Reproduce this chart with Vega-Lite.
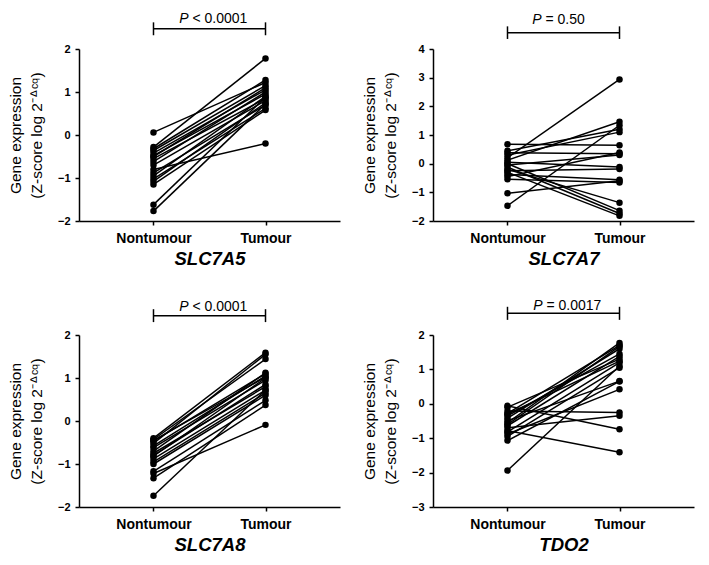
{
  "$schema": "https://vega.github.io/schema/vega-lite/v6.json",
  "padding": {"left": 8, "top": 11, "right": 5, "bottom": 5},
  "background": "white",
  "spacing": 30,
  "datasets": {
    "expr": [
      {"gene":"SLC7A5","pair":1,"tissue":"Nontumour","value":0.06},{"gene":"SLC7A5","pair":1,"tissue":"Tumour","value":1.22},
      {"gene":"SLC7A5","pair":2,"tissue":"Nontumour","value":-0.28},{"gene":"SLC7A5","pair":2,"tissue":"Tumour","value":1.78},
      {"gene":"SLC7A5","pair":3,"tissue":"Nontumour","value":-0.32},{"gene":"SLC7A5","pair":3,"tissue":"Tumour","value":1.28},
      {"gene":"SLC7A5","pair":4,"tissue":"Nontumour","value":-0.36},{"gene":"SLC7A5","pair":4,"tissue":"Tumour","value":1.15},
      {"gene":"SLC7A5","pair":5,"tissue":"Nontumour","value":-0.42},{"gene":"SLC7A5","pair":5,"tissue":"Tumour","value":1.05},
      {"gene":"SLC7A5","pair":6,"tissue":"Nontumour","value":-0.48},{"gene":"SLC7A5","pair":6,"tissue":"Tumour","value":0.95},
      {"gene":"SLC7A5","pair":7,"tissue":"Nontumour","value":-0.55},{"gene":"SLC7A5","pair":7,"tissue":"Tumour","value":0.85},
      {"gene":"SLC7A5","pair":8,"tissue":"Nontumour","value":-0.62},{"gene":"SLC7A5","pair":8,"tissue":"Tumour","value":1.0},
      {"gene":"SLC7A5","pair":9,"tissue":"Nontumour","value":-0.7},{"gene":"SLC7A5","pair":9,"tissue":"Tumour","value":0.8},
      {"gene":"SLC7A5","pair":10,"tissue":"Nontumour","value":-0.8},{"gene":"SLC7A5","pair":10,"tissue":"Tumour","value":-0.2},
      {"gene":"SLC7A5","pair":11,"tissue":"Nontumour","value":-0.88},{"gene":"SLC7A5","pair":11,"tissue":"Tumour","value":0.7},
      {"gene":"SLC7A5","pair":12,"tissue":"Nontumour","value":-0.95},{"gene":"SLC7A5","pair":12,"tissue":"Tumour","value":0.9},
      {"gene":"SLC7A5","pair":13,"tissue":"Nontumour","value":-1.02},{"gene":"SLC7A5","pair":13,"tissue":"Tumour","value":0.62},
      {"gene":"SLC7A5","pair":14,"tissue":"Nontumour","value":-1.08},{"gene":"SLC7A5","pair":14,"tissue":"Tumour","value":0.75},
      {"gene":"SLC7A5","pair":15,"tissue":"Nontumour","value":-1.15},{"gene":"SLC7A5","pair":15,"tissue":"Tumour","value":0.58},
      {"gene":"SLC7A5","pair":16,"tissue":"Nontumour","value":-1.62},{"gene":"SLC7A5","pair":16,"tissue":"Tumour","value":0.88},
      {"gene":"SLC7A5","pair":17,"tissue":"Nontumour","value":-1.77},{"gene":"SLC7A5","pair":17,"tissue":"Tumour","value":0.72},
      {"gene":"SLC7A5","pair":18,"tissue":"Nontumour","value":-0.5},{"gene":"SLC7A5","pair":18,"tissue":"Tumour","value":1.1},

      {"gene":"SLC7A7","pair":1,"tissue":"Nontumour","value":0.68},{"gene":"SLC7A7","pair":1,"tissue":"Tumour","value":0.64},
      {"gene":"SLC7A7","pair":2,"tissue":"Nontumour","value":0.45},{"gene":"SLC7A7","pair":2,"tissue":"Tumour","value":1.2},
      {"gene":"SLC7A7","pair":3,"tissue":"Nontumour","value":0.38},{"gene":"SLC7A7","pair":3,"tissue":"Tumour","value":0.35},
      {"gene":"SLC7A7","pair":4,"tissue":"Nontumour","value":0.3},{"gene":"SLC7A7","pair":4,"tissue":"Tumour","value":1.1},
      {"gene":"SLC7A7","pair":5,"tissue":"Nontumour","value":0.21},{"gene":"SLC7A7","pair":5,"tissue":"Tumour","value":2.94},
      {"gene":"SLC7A7","pair":6,"tissue":"Nontumour","value":0.12},{"gene":"SLC7A7","pair":6,"tissue":"Tumour","value":1.46},
      {"gene":"SLC7A7","pair":7,"tissue":"Nontumour","value":0.05},{"gene":"SLC7A7","pair":7,"tissue":"Tumour","value":-0.12},
      {"gene":"SLC7A7","pair":8,"tissue":"Nontumour","value":0.0},{"gene":"SLC7A7","pair":8,"tissue":"Tumour","value":-1.64},
      {"gene":"SLC7A7","pair":9,"tissue":"Nontumour","value":-0.05},{"gene":"SLC7A7","pair":9,"tissue":"Tumour","value":0.3},
      {"gene":"SLC7A7","pair":10,"tissue":"Nontumour","value":-0.12},{"gene":"SLC7A7","pair":10,"tissue":"Tumour","value":-1.74},
      {"gene":"SLC7A7","pair":11,"tissue":"Nontumour","value":-0.2},{"gene":"SLC7A7","pair":11,"tissue":"Tumour","value":-1.36},
      {"gene":"SLC7A7","pair":12,"tissue":"Nontumour","value":-0.25},{"gene":"SLC7A7","pair":12,"tissue":"Tumour","value":-0.19},
      {"gene":"SLC7A7","pair":13,"tissue":"Nontumour","value":-0.3},{"gene":"SLC7A7","pair":13,"tissue":"Tumour","value":-1.82},
      {"gene":"SLC7A7","pair":14,"tissue":"Nontumour","value":-0.38},{"gene":"SLC7A7","pair":14,"tissue":"Tumour","value":-0.56},
      {"gene":"SLC7A7","pair":15,"tissue":"Nontumour","value":-0.45},{"gene":"SLC7A7","pair":15,"tissue":"Tumour","value":0.39},
      {"gene":"SLC7A7","pair":16,"tissue":"Nontumour","value":-0.54},{"gene":"SLC7A7","pair":16,"tissue":"Tumour","value":-0.66},
      {"gene":"SLC7A7","pair":17,"tissue":"Nontumour","value":-1.03},{"gene":"SLC7A7","pair":17,"tissue":"Tumour","value":-0.6},
      {"gene":"SLC7A7","pair":18,"tissue":"Nontumour","value":-1.47},{"gene":"SLC7A7","pair":18,"tissue":"Tumour","value":1.34},

      {"gene":"SLC7A8","pair":1,"tissue":"Nontumour","value":-0.4},{"gene":"SLC7A8","pair":1,"tissue":"Tumour","value":1.59},
      {"gene":"SLC7A8","pair":2,"tissue":"Nontumour","value":-0.43},{"gene":"SLC7A8","pair":2,"tissue":"Tumour","value":1.44},
      {"gene":"SLC7A8","pair":3,"tissue":"Nontumour","value":-0.47},{"gene":"SLC7A8","pair":3,"tissue":"Tumour","value":1.1},
      {"gene":"SLC7A8","pair":4,"tissue":"Nontumour","value":-0.52},{"gene":"SLC7A8","pair":4,"tissue":"Tumour","value":1.55},
      {"gene":"SLC7A8","pair":5,"tissue":"Nontumour","value":-0.58},{"gene":"SLC7A8","pair":5,"tissue":"Tumour","value":1.05},
      {"gene":"SLC7A8","pair":6,"tissue":"Nontumour","value":-0.62},{"gene":"SLC7A8","pair":6,"tissue":"Tumour","value":0.95},
      {"gene":"SLC7A8","pair":7,"tissue":"Nontumour","value":-0.7},{"gene":"SLC7A8","pair":7,"tissue":"Tumour","value":1.12},
      {"gene":"SLC7A8","pair":8,"tissue":"Nontumour","value":-0.75},{"gene":"SLC7A8","pair":8,"tissue":"Tumour","value":0.8},
      {"gene":"SLC7A8","pair":9,"tissue":"Nontumour","value":-0.82},{"gene":"SLC7A8","pair":9,"tissue":"Tumour","value":1.0},
      {"gene":"SLC7A8","pair":10,"tissue":"Nontumour","value":-0.88},{"gene":"SLC7A8","pair":10,"tissue":"Tumour","value":0.72},
      {"gene":"SLC7A8","pair":11,"tissue":"Nontumour","value":-0.95},{"gene":"SLC7A8","pair":11,"tissue":"Tumour","value":0.65},
      {"gene":"SLC7A8","pair":12,"tissue":"Nontumour","value":-1.0},{"gene":"SLC7A8","pair":12,"tissue":"Tumour","value":0.6},
      {"gene":"SLC7A8","pair":13,"tissue":"Nontumour","value":-1.17},{"gene":"SLC7A8","pair":13,"tissue":"Tumour","value":0.48},
      {"gene":"SLC7A8","pair":14,"tissue":"Nontumour","value":-1.22},{"gene":"SLC7A8","pair":14,"tissue":"Tumour","value":-0.09},
      {"gene":"SLC7A8","pair":15,"tissue":"Nontumour","value":-1.33},{"gene":"SLC7A8","pair":15,"tissue":"Tumour","value":0.37},
      {"gene":"SLC7A8","pair":16,"tissue":"Nontumour","value":-1.74},{"gene":"SLC7A8","pair":16,"tissue":"Tumour","value":0.72},
      {"gene":"SLC7A8","pair":17,"tissue":"Nontumour","value":-0.45},{"gene":"SLC7A8","pair":17,"tissue":"Tumour","value":1.02},
      {"gene":"SLC7A8","pair":18,"tissue":"Nontumour","value":-0.8},{"gene":"SLC7A8","pair":18,"tissue":"Tumour","value":0.85},

      {"gene":"TDO2","pair":1,"tissue":"Nontumour","value":-0.06},{"gene":"TDO2","pair":1,"tissue":"Tumour","value":-0.74},
      {"gene":"TDO2","pair":2,"tissue":"Nontumour","value":-0.1},{"gene":"TDO2","pair":2,"tissue":"Tumour","value":1.3},
      {"gene":"TDO2","pair":3,"tissue":"Nontumour","value":-0.21},{"gene":"TDO2","pair":3,"tissue":"Tumour","value":-0.25},
      {"gene":"TDO2","pair":4,"tissue":"Nontumour","value":-0.28},{"gene":"TDO2","pair":4,"tissue":"Tumour","value":1.7},
      {"gene":"TDO2","pair":5,"tissue":"Nontumour","value":-0.35},{"gene":"TDO2","pair":5,"tissue":"Tumour","value":1.45},
      {"gene":"TDO2","pair":6,"tissue":"Nontumour","value":-0.42},{"gene":"TDO2","pair":6,"tissue":"Tumour","value":1.6},
      {"gene":"TDO2","pair":7,"tissue":"Nontumour","value":-0.49},{"gene":"TDO2","pair":7,"tissue":"Tumour","value":0.66},
      {"gene":"TDO2","pair":8,"tissue":"Nontumour","value":-0.55},{"gene":"TDO2","pair":8,"tissue":"Tumour","value":1.77},
      {"gene":"TDO2","pair":9,"tissue":"Nontumour","value":-0.64},{"gene":"TDO2","pair":9,"tissue":"Tumour","value":1.38},
      {"gene":"TDO2","pair":10,"tissue":"Nontumour","value":-0.7},{"gene":"TDO2","pair":10,"tissue":"Tumour","value":-0.35},
      {"gene":"TDO2","pair":11,"tissue":"Nontumour","value":-0.78},{"gene":"TDO2","pair":11,"tissue":"Tumour","value":-1.41},
      {"gene":"TDO2","pair":12,"tissue":"Nontumour","value":-0.82},{"gene":"TDO2","pair":12,"tissue":"Tumour","value":1.2},
      {"gene":"TDO2","pair":13,"tissue":"Nontumour","value":-0.88},{"gene":"TDO2","pair":13,"tissue":"Tumour","value":0.42},
      {"gene":"TDO2","pair":14,"tissue":"Nontumour","value":-0.95},{"gene":"TDO2","pair":14,"tissue":"Tumour","value":1.05},
      {"gene":"TDO2","pair":15,"tissue":"Nontumour","value":-1.07},{"gene":"TDO2","pair":15,"tissue":"Tumour","value":0.65},
      {"gene":"TDO2","pair":16,"tissue":"Nontumour","value":-1.94},{"gene":"TDO2","pair":16,"tissue":"Tumour","value":1.1},
      {"gene":"TDO2","pair":17,"tissue":"Nontumour","value":-0.6},{"gene":"TDO2","pair":17,"tissue":"Tumour","value":1.67},
      {"gene":"TDO2","pair":18,"tissue":"Nontumour","value":-0.3},{"gene":"TDO2","pair":18,"tissue":"Tumour","value":1.24}
    ]
  },
  "vconcat": [
    {"hconcat": [
      {
        "width": 261, "height": 172,
        "layer": [
          {"data": {"name": "expr"}, "transform": [{"filter": "datum.gene === 'SLC7A5'"}], "mark": {"type": "line", "color": "black", "strokeWidth": 1.5},
           "encoding": {
             "x": {"field": "tissue", "type": "nominal", "scale": {"type": "point", "padding": 0.665, "domain": ["Nontumour", "Tumour"]}, "axis": {"title": "SLC7A5"}},
             "y": {"field": "value", "type": "quantitative", "scale": {"domain": [-2, 2], "nice": false, "zero": false}, "axis": {"values": [-2, -1, 0, 1, 2], "title": ["Gene expression", "(Z-score log 2⁻ᐞᶜ𐞥)"]}},
             "detail": {"field": "pair"}}},
          {"data": {"name": "expr"}, "transform": [{"filter": "datum.gene === 'SLC7A5'"}], "mark": {"type": "circle", "color": "black", "size": 42, "opacity": 1},
           "encoding": {"x": {"field": "tissue", "type": "nominal", "axis": {"title": "SLC7A5"}}, "y": {"field": "value", "type": "quantitative", "scale": {"domain": [-2, 2], "nice": false, "zero": false}, "axis": {"values": [-2, -1, 0, 1, 2], "title": ["Gene expression", "(Z-score log 2⁻ᐞᶜ𐞥)"]}}}},
          {"data": {"values": [{}]}, "mark": {"type": "rule", "color": "black", "strokeWidth": 1.5}, "encoding": {"x": {"datum": "Nontumour"}, "x2": {"datum": "Tumour"}, "y": {"datum": 2.47, "scale": {"domain": [-2, 2], "nice": false, "zero": false}, "axis": {"values": [-2, -1, 0, 1, 2], "title": ["Gene expression", "(Z-score log 2⁻ᐞᶜ𐞥)"]}}}},
          {"data": {"values": [{}]}, "mark": {"type": "rule", "color": "black", "strokeWidth": 1.5}, "encoding": {"x": {"datum": "Nontumour"}, "y": {"datum": 2.32, "scale": {"domain": [-2, 2], "nice": false, "zero": false}, "axis": {"values": [-2, -1, 0, 1, 2], "title": ["Gene expression", "(Z-score log 2⁻ᐞᶜ𐞥)"]}}, "y2": {"datum": 2.62}}},
          {"data": {"values": [{}]}, "mark": {"type": "rule", "color": "black", "strokeWidth": 1.5}, "encoding": {"x": {"datum": "Tumour"}, "y": {"datum": 2.32, "scale": {"domain": [-2, 2], "nice": false, "zero": false}, "axis": {"values": [-2, -1, 0, 1, 2], "title": ["Gene expression", "(Z-score log 2⁻ᐞᶜ𐞥)"]}}, "y2": {"datum": 2.62}}},
          {"data": {"values": [{}]}, "mark": {"type": "text", "text": "P", "fontStyle": "italic", "fontSize": 14, "align": "right", "baseline": "alphabetic", "dx": 35, "color": "black"}, "encoding": {"x": {"datum": "Nontumour"}, "y": {"datum": 2.61, "scale": {"domain": [-2, 2], "nice": false, "zero": false}, "axis": {"values": [-2, -1, 0, 1, 2], "title": ["Gene expression", "(Z-score log 2⁻ᐞᶜ𐞥)"]}}}},
          {"data": {"values": [{}]}, "mark": {"type": "text", "text": "< 0.0001", "fontSize": 14, "align": "left", "baseline": "alphabetic", "dx": 39, "color": "black"}, "encoding": {"x": {"datum": "Nontumour"}, "y": {"datum": 2.61, "scale": {"domain": [-2, 2], "nice": false, "zero": false}, "axis": {"values": [-2, -1, 0, 1, 2], "title": ["Gene expression", "(Z-score log 2⁻ᐞᶜ𐞥)"]}}}}
        ]
      },
      {
        "width": 261, "height": 172,
        "layer": [
          {"data": {"name": "expr"}, "transform": [{"filter": "datum.gene === 'SLC7A7'"}], "mark": {"type": "line", "color": "black", "strokeWidth": 1.5},
           "encoding": {
             "x": {"field": "tissue", "type": "nominal", "scale": {"type": "point", "padding": 0.665, "domain": ["Nontumour", "Tumour"]}, "axis": {"title": "SLC7A7"}},
             "y": {"field": "value", "type": "quantitative", "scale": {"domain": [-2, 4], "nice": false, "zero": false}, "axis": {"values": [-2, -1, 0, 1, 2, 3, 4], "title": ["Gene expression", "(Z-score log 2⁻ᐞᶜ𐞥)"]}},
             "detail": {"field": "pair"}}},
          {"data": {"name": "expr"}, "transform": [{"filter": "datum.gene === 'SLC7A7'"}], "mark": {"type": "circle", "color": "black", "size": 42, "opacity": 1},
           "encoding": {"x": {"field": "tissue", "type": "nominal", "axis": {"title": "SLC7A7"}}, "y": {"field": "value", "type": "quantitative", "scale": {"domain": [-2, 4], "nice": false, "zero": false}, "axis": {"values": [-2, -1, 0, 1, 2, 3, 4], "title": ["Gene expression", "(Z-score log 2⁻ᐞᶜ𐞥)"]}}}},
          {"data": {"values": [{}]}, "mark": {"type": "rule", "color": "black", "strokeWidth": 1.5}, "encoding": {"x": {"datum": "Nontumour"}, "x2": {"datum": "Tumour"}, "y": {"datum": 4.57, "scale": {"domain": [-2, 4], "nice": false, "zero": false}, "axis": {"values": [-2, -1, 0, 1, 2, 3, 4], "title": ["Gene expression", "(Z-score log 2⁻ᐞᶜ𐞥)"]}}}},
          {"data": {"values": [{}]}, "mark": {"type": "rule", "color": "black", "strokeWidth": 1.5}, "encoding": {"x": {"datum": "Nontumour"}, "y": {"datum": 4.35, "scale": {"domain": [-2, 4], "nice": false, "zero": false}, "axis": {"values": [-2, -1, 0, 1, 2, 3, 4], "title": ["Gene expression", "(Z-score log 2⁻ᐞᶜ𐞥)"]}}, "y2": {"datum": 4.79}}},
          {"data": {"values": [{}]}, "mark": {"type": "rule", "color": "black", "strokeWidth": 1.5}, "encoding": {"x": {"datum": "Tumour"}, "y": {"datum": 4.35, "scale": {"domain": [-2, 4], "nice": false, "zero": false}, "axis": {"values": [-2, -1, 0, 1, 2, 3, 4], "title": ["Gene expression", "(Z-score log 2⁻ᐞᶜ𐞥)"]}}, "y2": {"datum": 4.79}}},
          {"data": {"values": [{}]}, "mark": {"type": "text", "text": "P", "fontStyle": "italic", "fontSize": 14, "align": "right", "baseline": "alphabetic", "dx": 34, "color": "black"}, "encoding": {"x": {"datum": "Nontumour"}, "y": {"datum": 4.86, "scale": {"domain": [-2, 4], "nice": false, "zero": false}, "axis": {"values": [-2, -1, 0, 1, 2, 3, 4], "title": ["Gene expression", "(Z-score log 2⁻ᐞᶜ𐞥)"]}}}},
          {"data": {"values": [{}]}, "mark": {"type": "text", "text": "= 0.50", "fontSize": 14, "align": "left", "baseline": "alphabetic", "dx": 38, "color": "black"}, "encoding": {"x": {"datum": "Nontumour"}, "y": {"datum": 4.86, "scale": {"domain": [-2, 4], "nice": false, "zero": false}, "axis": {"values": [-2, -1, 0, 1, 2, 3, 4], "title": ["Gene expression", "(Z-score log 2⁻ᐞᶜ𐞥)"]}}}}
        ]
      }
    ]},
    {"hconcat": [
      {
        "width": 261, "height": 172,
        "layer": [
          {"data": {"name": "expr"}, "transform": [{"filter": "datum.gene === 'SLC7A8'"}], "mark": {"type": "line", "color": "black", "strokeWidth": 1.5},
           "encoding": {
             "x": {"field": "tissue", "type": "nominal", "scale": {"type": "point", "padding": 0.665, "domain": ["Nontumour", "Tumour"]}, "axis": {"title": "SLC7A8"}},
             "y": {"field": "value", "type": "quantitative", "scale": {"domain": [-2, 2], "nice": false, "zero": false}, "axis": {"values": [-2, -1, 0, 1, 2], "title": ["Gene expression", "(Z-score log 2⁻ᐞᶜ𐞥)"]}},
             "detail": {"field": "pair"}}},
          {"data": {"name": "expr"}, "transform": [{"filter": "datum.gene === 'SLC7A8'"}], "mark": {"type": "circle", "color": "black", "size": 42, "opacity": 1},
           "encoding": {"x": {"field": "tissue", "type": "nominal", "axis": {"title": "SLC7A8"}}, "y": {"field": "value", "type": "quantitative", "scale": {"domain": [-2, 2], "nice": false, "zero": false}, "axis": {"values": [-2, -1, 0, 1, 2], "title": ["Gene expression", "(Z-score log 2⁻ᐞᶜ𐞥)"]}}}},
          {"data": {"values": [{}]}, "mark": {"type": "rule", "color": "black", "strokeWidth": 1.5}, "encoding": {"x": {"datum": "Nontumour"}, "x2": {"datum": "Tumour"}, "y": {"datum": 2.45, "scale": {"domain": [-2, 2], "nice": false, "zero": false}, "axis": {"values": [-2, -1, 0, 1, 2], "title": ["Gene expression", "(Z-score log 2⁻ᐞᶜ𐞥)"]}}}},
          {"data": {"values": [{}]}, "mark": {"type": "rule", "color": "black", "strokeWidth": 1.5}, "encoding": {"x": {"datum": "Nontumour"}, "y": {"datum": 2.3, "scale": {"domain": [-2, 2], "nice": false, "zero": false}, "axis": {"values": [-2, -1, 0, 1, 2], "title": ["Gene expression", "(Z-score log 2⁻ᐞᶜ𐞥)"]}}, "y2": {"datum": 2.6}}},
          {"data": {"values": [{}]}, "mark": {"type": "rule", "color": "black", "strokeWidth": 1.5}, "encoding": {"x": {"datum": "Tumour"}, "y": {"datum": 2.3, "scale": {"domain": [-2, 2], "nice": false, "zero": false}, "axis": {"values": [-2, -1, 0, 1, 2], "title": ["Gene expression", "(Z-score log 2⁻ᐞᶜ𐞥)"]}}, "y2": {"datum": 2.6}}},
          {"data": {"values": [{}]}, "mark": {"type": "text", "text": "P", "fontStyle": "italic", "fontSize": 14, "align": "right", "baseline": "alphabetic", "dx": 35, "color": "black"}, "encoding": {"x": {"datum": "Nontumour"}, "y": {"datum": 2.56, "scale": {"domain": [-2, 2], "nice": false, "zero": false}, "axis": {"values": [-2, -1, 0, 1, 2], "title": ["Gene expression", "(Z-score log 2⁻ᐞᶜ𐞥)"]}}}},
          {"data": {"values": [{}]}, "mark": {"type": "text", "text": "< 0.0001", "fontSize": 14, "align": "left", "baseline": "alphabetic", "dx": 39, "color": "black"}, "encoding": {"x": {"datum": "Nontumour"}, "y": {"datum": 2.56, "scale": {"domain": [-2, 2], "nice": false, "zero": false}, "axis": {"values": [-2, -1, 0, 1, 2], "title": ["Gene expression", "(Z-score log 2⁻ᐞᶜ𐞥)"]}}}}
        ]
      },
      {
        "width": 261, "height": 172,
        "layer": [
          {"data": {"name": "expr"}, "transform": [{"filter": "datum.gene === 'TDO2'"}], "mark": {"type": "line", "color": "black", "strokeWidth": 1.5},
           "encoding": {
             "x": {"field": "tissue", "type": "nominal", "scale": {"type": "point", "padding": 0.665, "domain": ["Nontumour", "Tumour"]}, "axis": {"title": "TDO2"}},
             "y": {"field": "value", "type": "quantitative", "scale": {"domain": [-3, 2], "nice": false, "zero": false}, "axis": {"values": [-3, -2, -1, 0, 1, 2], "title": ["Gene expression", "(Z-score log 2⁻ᐞᶜ𐞥)"]}},
             "detail": {"field": "pair"}}},
          {"data": {"name": "expr"}, "transform": [{"filter": "datum.gene === 'TDO2'"}], "mark": {"type": "circle", "color": "black", "size": 42, "opacity": 1},
           "encoding": {"x": {"field": "tissue", "type": "nominal", "axis": {"title": "TDO2"}}, "y": {"field": "value", "type": "quantitative", "scale": {"domain": [-3, 2], "nice": false, "zero": false}, "axis": {"values": [-3, -2, -1, 0, 1, 2], "title": ["Gene expression", "(Z-score log 2⁻ᐞᶜ𐞥)"]}}}},
          {"data": {"values": [{}]}, "mark": {"type": "rule", "color": "black", "strokeWidth": 1.5}, "encoding": {"x": {"datum": "Nontumour"}, "x2": {"datum": "Tumour"}, "y": {"datum": 2.63, "scale": {"domain": [-3, 2], "nice": false, "zero": false}, "axis": {"values": [-3, -2, -1, 0, 1, 2], "title": ["Gene expression", "(Z-score log 2⁻ᐞᶜ𐞥)"]}}}},
          {"data": {"values": [{}]}, "mark": {"type": "rule", "color": "black", "strokeWidth": 1.5}, "encoding": {"x": {"datum": "Nontumour"}, "y": {"datum": 2.44, "scale": {"domain": [-3, 2], "nice": false, "zero": false}, "axis": {"values": [-3, -2, -1, 0, 1, 2], "title": ["Gene expression", "(Z-score log 2⁻ᐞᶜ𐞥)"]}}, "y2": {"datum": 2.82}}},
          {"data": {"values": [{}]}, "mark": {"type": "rule", "color": "black", "strokeWidth": 1.5}, "encoding": {"x": {"datum": "Tumour"}, "y": {"datum": 2.44, "scale": {"domain": [-3, 2], "nice": false, "zero": false}, "axis": {"values": [-3, -2, -1, 0, 1, 2], "title": ["Gene expression", "(Z-score log 2⁻ᐞᶜ𐞥)"]}}, "y2": {"datum": 2.82}}},
          {"data": {"values": [{}]}, "mark": {"type": "text", "text": "P", "fontStyle": "italic", "fontSize": 14, "align": "right", "baseline": "alphabetic", "dx": 35, "color": "black"}, "encoding": {"x": {"datum": "Nontumour"}, "y": {"datum": 2.74, "scale": {"domain": [-3, 2], "nice": false, "zero": false}, "axis": {"values": [-3, -2, -1, 0, 1, 2], "title": ["Gene expression", "(Z-score log 2⁻ᐞᶜ𐞥)"]}}}},
          {"data": {"values": [{}]}, "mark": {"type": "text", "text": "= 0.0017", "fontSize": 14, "align": "left", "baseline": "alphabetic", "dx": 39, "color": "black"}, "encoding": {"x": {"datum": "Nontumour"}, "y": {"datum": 2.74, "scale": {"domain": [-3, 2], "nice": false, "zero": false}, "axis": {"values": [-3, -2, -1, 0, 1, 2], "title": ["Gene expression", "(Z-score log 2⁻ᐞᶜ𐞥)"]}}}}
        ]
      }
    ]}
  ],
  "config": {
    "font": "Liberation Sans",
    "concat": {"spacing": 22},
    "view": {"stroke": null},
    "axis": {"domainColor": "black", "domainWidth": 1.5, "tickColor": "black", "tickWidth": 1.5, "grid": false, "labelColor": "black", "titleColor": "black"},
    "axisY": {"tickSize": 4, "labelFontSize": 11, "labelFontWeight": "bold", "labelPadding": 5, "labelOverlap": false, "titleFontSize": 15.5, "titleFontWeight": "normal", "titlePadding": 13, "titleLineHeight": 21},
    "axisX": {"tickSize": 4, "labelFontSize": 14, "labelFontWeight": "bold", "labelAngle": 0, "labelPadding": 6, "titleFontSize": 18.5, "titleFontWeight": "bold", "titleFontStyle": "italic", "titlePadding": 4}
  }
}
